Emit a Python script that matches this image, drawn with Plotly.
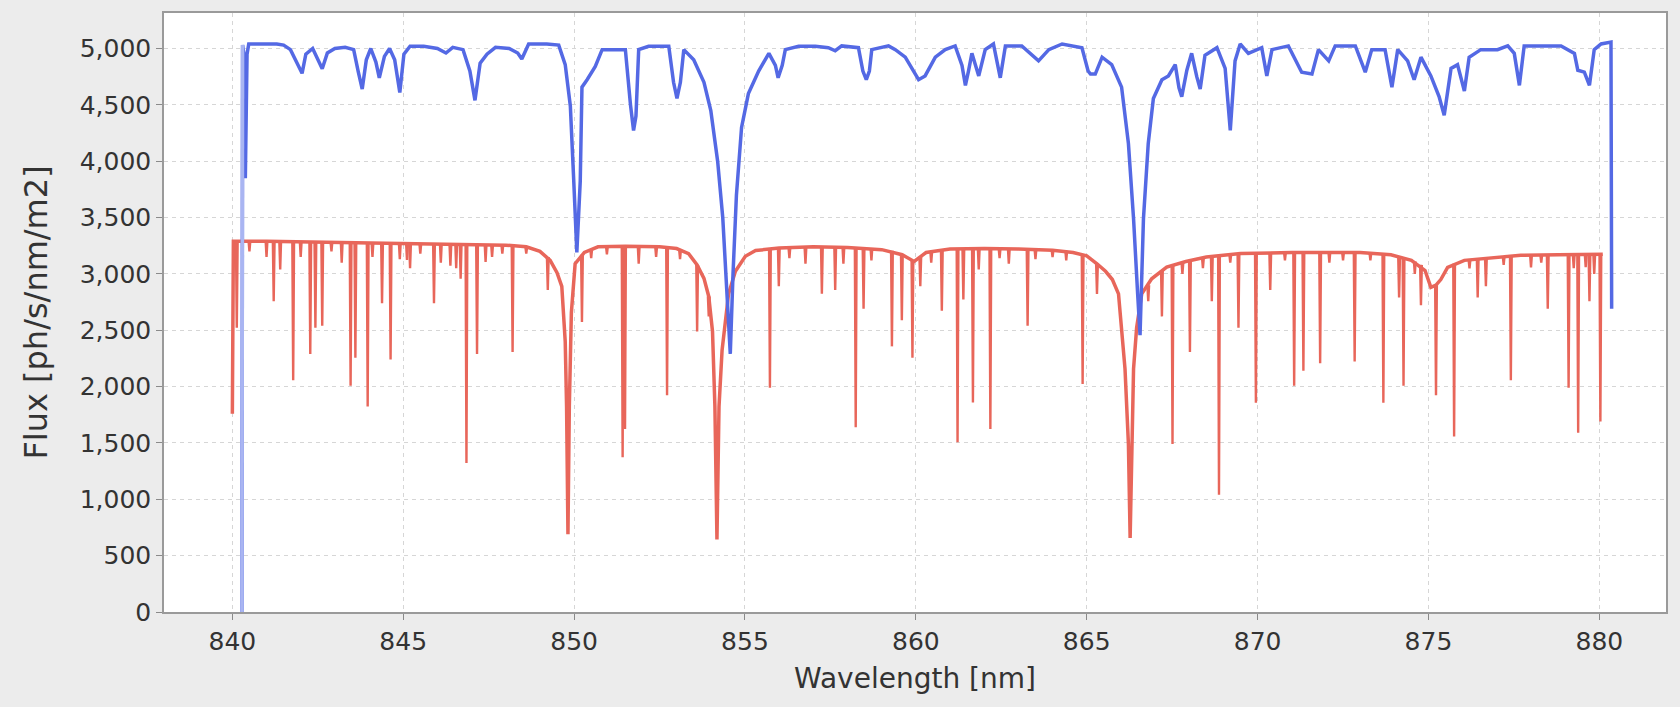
import plotly.graph_objects as go

# ---------------- data ----------------
blue_wl = [840.26, 840.28, 840.30, 840.34, 840.38, 840.43, 840.48, 840.9, 841.3, 841.5, 841.7,
           842.04, 842.15, 842.35, 842.5, 842.63, 842.78, 843.0, 843.3, 843.55, 843.68, 843.8,
           843.92, 844.05, 844.2, 844.3, 844.45, 844.6, 844.75, 844.9, 845.02, 845.2, 845.6,
           846.0, 846.25, 846.45, 846.75, 846.95, 847.1, 847.25, 847.45, 847.7, 848.1, 848.35,
           848.47, 848.67, 849.2, 849.55, 849.74, 849.89, 849.99, 850.08, 850.18, 850.23, 850.38,
           850.62, 850.82, 851.5, 851.65, 851.74, 851.81, 851.89, 852.18, 852.77, 852.91, 853.01,
           853.11, 853.21, 853.5, 853.8, 854.0, 854.2, 854.35, 854.45, 854.57, 854.65, 854.75,
           854.9, 855.1, 855.4, 855.7, 855.89, 855.97, 856.09, 856.18, 856.57, 857.06, 857.44,
           857.64, 857.83, 858.32, 858.45, 858.55, 858.64, 858.71, 859.2, 859.4, 859.69, 859.88,
           860.08, 860.27, 860.57, 860.86, 861.15, 861.35, 861.45, 861.54, 861.64, 861.84, 862.03,
           862.27, 862.47, 862.62, 863.1, 863.59, 863.89, 864.28, 864.86, 865.04, 865.11, 865.25,
           865.45, 865.73, 866.02, 866.22, 866.37, 866.49, 866.56, 866.66, 866.8, 866.95, 867.2,
           867.39, 867.59, 867.7, 867.78, 867.93, 868.07, 868.22, 868.32, 868.46, 868.81, 869.05,
           869.2, 869.34, 869.49, 869.73, 870.12, 870.27, 870.42, 870.9, 871.29, 871.59, 871.78,
           872.08, 872.27, 872.86, 873.15, 873.34, 873.73, 873.93, 874.1, 874.39, 874.58, 874.78,
           875.07, 875.31, 875.46, 875.66, 875.85, 876.05, 876.19, 876.53, 877.02, 877.32, 877.51,
           877.66, 877.8, 878.88, 879.27, 879.37, 879.56, 879.71, 879.85, 880.05, 880.34, 880.36]
blue_flux = [0, 0, 5030, 4950, 3850, 4950, 5040, 5040, 5040, 5030, 4990,
             4780, 4950, 5000, 4900, 4820, 4960, 5000, 5010, 4990, 4800, 4640,
             4900, 5000, 4880, 4740, 4930, 5000, 4900, 4610, 4950, 5020, 5020,
             5000, 4960, 5010, 4990, 4800, 4540, 4870, 4950, 5010, 5000, 4960,
             4907, 5040, 5040, 5030, 4857, 4490, 3823, 3190, 3823, 4657, 4723,
             4840, 4990, 4990, 4500, 4273, 4400, 4990, 5020, 5020, 4700, 4557,
             4700, 4990, 4900, 4700, 4450, 4000, 3500, 2900, 2290, 3000, 3700,
             4300, 4600, 4800, 4957, 4850, 4740, 4850, 4990, 5020, 5020, 5007,
             4980, 5023, 5007, 4800, 4723, 4800, 4990, 5023, 4990, 4923, 4823,
             4723, 4757, 4923, 4990, 5023, 4850, 4673, 4800, 4957, 4757, 4990,
             5040, 4740, 5023, 5023, 4890, 4990, 5040, 5007, 4800, 4773, 4773,
             4923, 4857, 4657, 4157, 3490, 2823, 2457, 3490, 4157, 4557, 4723,
             4757, 4857, 4650, 4573, 4807, 4957, 4750, 4640, 4940, 5007, 4823,
             4273, 4890, 5040, 4957, 5007, 4757, 4990, 5023, 4790, 4773, 4990,
             4890, 5023, 5023, 4790, 4990, 4990, 4657, 4990, 4890, 4723, 4923,
             4757, 4573, 4407, 4823, 4857, 4623, 4923, 4990, 4990, 5023, 4957,
             4673, 5023, 5023, 4957, 4807, 4790, 4673, 4990, 5040, 5057, 2690]

# red: smooth continuum (with the broad Ca II wings)
red_cont_wl = [840.00, 840.03, 841.0, 842.0, 843.0, 844.0, 845.0, 846.0, 847.0, 848.0, 848.6,
               849.0, 849.3, 849.5, 849.64, 849.74, 849.78, 849.82, 849.86, 849.92, 850.03,
               850.3, 850.7, 851.5, 852.5, 853.0, 853.35, 853.6, 853.8, 853.94, 854.05, 854.12,
               854.18, 854.24, 854.33, 854.52, 854.72, 855.01, 855.31, 856.0, 857.0, 858.0,
               859.0, 859.6, 859.95, 860.3, 861.0, 862.0, 863.0, 864.0, 864.6, 865.0, 865.3,
               865.55, 865.75, 865.93, 866.12, 866.22, 866.27, 866.32, 866.37, 866.46, 866.61,
               866.9, 867.34, 867.9, 868.5, 869.5, 871.0, 873.0, 873.9, 874.5, 874.9, 875.07,
               875.22, 875.36, 875.56, 876.05, 877.0, 877.7, 878.8, 880.1]
red_cont_flux = [1760, 3290, 3290, 3285, 3280, 3275, 3270, 3265, 3260, 3255, 3240,
                 3200, 3120, 3010, 2890, 2400, 1820, 690, 1820, 2657, 3090,
                 3190, 3240, 3245, 3240, 3225, 3180, 3080, 2960, 2800, 2490, 1823,
                 643, 1823, 2323, 2823, 3023, 3157, 3207, 3230, 3240, 3235,
                 3215, 3170, 3110, 3190, 3220, 3225, 3220, 3210, 3190, 3160, 3090,
                 3023, 2950, 2823, 2157, 1490, 657, 1490, 2157, 2523, 2823,
                 2957, 3060, 3110, 3150, 3180, 3190, 3190, 3170, 3120, 3030, 2880,
                 2900, 2950, 3057, 3120, 3150, 3165, 3170, 3175]

# red: narrow absorption lines (position, local continuum, line bottom)
red_line_wl = [840.13, 840.5, 841.0, 841.21, 841.40, 841.78, 842.0, 842.28, 842.43, 842.63, 842.9,
               843.2, 843.46, 843.60, 843.96, 844.1, 844.38, 844.63, 844.9, 845.11, 845.2, 845.5,
               845.90, 846.1, 846.38, 846.55, 846.68, 846.85, 847.16, 847.41, 847.6, 847.9, 848.20,
               848.6, 849.23, 850.23, 850.5, 850.96, 851.42, 851.49, 851.89, 852.4, 852.72, 853.1,
               853.6, 853.94, 855.73, 855.99, 856.3, 856.77, 857.25, 857.64, 857.88, 858.24, 858.47,
               858.7, 859.3, 859.59, 859.9, 860.13, 860.45, 860.76, 861.22, 861.39, 861.67, 861.84,
               862.18, 862.45, 862.72, 863.27, 863.5, 864.0, 864.4, 864.88, 865.3, 866.8, 867.2,
               867.51, 867.8, 868.02, 868.4, 868.66, 868.87, 869.2, 869.44, 869.95, 870.37, 870.8,
               871.07, 871.34, 871.83, 872.1, 872.5, 872.84, 873.3, 873.68, 874.14, 874.27, 874.6,
               874.78, 875.22, 875.75, 876.2, 876.44, 876.68, 877.2, 877.41, 878.0, 878.3, 878.49,
               879.1, 879.25, 879.38, 879.6, 879.71, 879.85, 880.03]
red_line_top = [3290, 3290, 3290, 3290, 3288, 3287, 3285, 3284, 3284, 3283, 3282,
                3281, 3280, 3279, 3276, 3275, 3273, 3272, 3270, 3270, 3269, 3268,
                3266, 3265, 3264, 3263, 3263, 3262, 3260, 3259, 3258, 3256, 3254,
                3240, 3150, 3170, 3220, 3242, 3245, 3245, 3243, 3240, 3238, 3215,
                3080, 2800, 3225, 3228, 3232, 3238, 3240, 3238, 3237, 3235, 3233,
                3230, 3205, 3175, 3115, 3150, 3200, 3210, 3220, 3221, 3223, 3224,
                3225, 3224, 3223, 3219, 3218, 3210, 3205, 3170, 3090, 2900, 3030,
                3070, 3100, 3110, 3140, 3150, 3155, 3170, 3175, 3185, 3187, 3189,
                3190, 3190, 3191, 3191, 3191, 3190, 3185, 3175, 3150, 3140, 3110,
                3080, 2900, 3090, 3125, 3135, 3140, 3155, 3158, 3166, 3168, 3168,
                3170, 3170, 3171, 3172, 3172, 3173, 3174]
red_line_min = [2523, 3200, 3150, 2757, 3040, 2057, 3150, 2290, 2523, 2540, 3200,
                3100, 2007, 2257, 1823, 3150, 2740, 2240, 3130, 3123, 3050, 3180,
                2740, 3100, 3073, 3050, 2957, 1323, 2290, 3107, 3150, 3180, 2307,
                3180, 2857, 2573, 3140, 3173, 1373, 1623, 3090, 3150, 1923, 3130,
                2490, 2623, 1990, 2890, 3140, 3090, 2823, 2857, 3090, 1640, 2690,
                3120, 2357, 2590, 2257, 2890, 3100, 2673, 1507, 2773, 1860, 3040,
                1623, 3140, 3090, 2540, 3130, 3150, 3120, 2023, 2823, 2757, 2623,
                1490, 3000, 2307, 3050, 2757, 1040, 3100, 2523, 1857, 2857, 3120,
                2007, 2140, 2207, 3100, 3120, 2223, 3120, 1857, 2790, 2007, 3000,
                2723, 1923, 1557, 3050, 2790, 2890, 3080, 2057, 3057, 3100, 2690,
                1990, 3050, 1590, 3060, 2757, 3000, 1690]

x_ticks = [840, 845, 850, 855, 860, 865, 870, 875, 880]
y_ticks = [0, 500, 1000, 1500, 2000, 2500, 3000, 3500, 4000, 4500, 5000]

# ---------------- build figure ----------------
BLUE = "#5469e4"
BLUE_LIGHT = "#a9b5f2"
RED = "#e8665a"
HALF = 0.025  # half width of a narrow absorption line, nm

lx, ly = [], []
for w, t, m in zip(red_line_wl, red_line_top, red_line_min):
    lx += [w - HALF, w, w + HALF, None]
    ly += [t, m, t, None]

fig = go.Figure()
fig.add_trace(go.Scatter(x=red_cont_wl, y=red_cont_flux, mode="lines",
                         line=dict(color=RED, width=3.5), showlegend=False))
fig.add_trace(go.Scatter(x=lx, y=ly, mode="lines", connectgaps=False,
                         line=dict(color=RED, width=2.4), showlegend=False))
fig.add_trace(go.Scatter(x=blue_wl, y=blue_flux, mode="lines",
                         line=dict(color=BLUE, width=3.5), showlegend=False))
# the leading edge of the blue spectrum is drawn in a paler tone
fig.add_trace(go.Scatter(x=blue_wl[1:3], y=blue_flux[1:3], mode="lines",
                         line=dict(color=BLUE_LIGHT, width=3.5), showlegend=False))

font_family = "DejaVu Sans"
axis_common = dict(
    showline=True, linecolor="#9a9a9a", linewidth=1.5, mirror=True,
    ticks="outside", ticklen=6, tickcolor="#8a8a8a",
    showgrid=True, gridcolor="#d6d6d6", gridwidth=1, griddash="4px,4px",
    zeroline=False,
    tickfont=dict(family=font_family, size=25, color="#333333"),
)

fig.update_layout(
    width=1680, height=707,
    margin=dict(l=164, r=14, t=13, b=95),
    paper_bgcolor="#ececec", plot_bgcolor="#ffffff",
    font=dict(family=font_family, color="#333333"),
    xaxis=dict(range=[838.0, 881.95], tickvals=x_ticks,
               ticktext=[str(v) for v in x_ticks],
               title=dict(text="Wavelength [nm]", font=dict(size=28, family=font_family),
                          standoff=14),
               **axis_common),
    yaxis=dict(range=[0, 5315], tickvals=y_ticks,
               ticktext=[f"{v:,}" for v in y_ticks],
               title=dict(text="Flux [ph/s/nm/m2]", font=dict(size=32, family=font_family),
                          standoff=22),
               **axis_common),
)

fig.write_html("out.html")
